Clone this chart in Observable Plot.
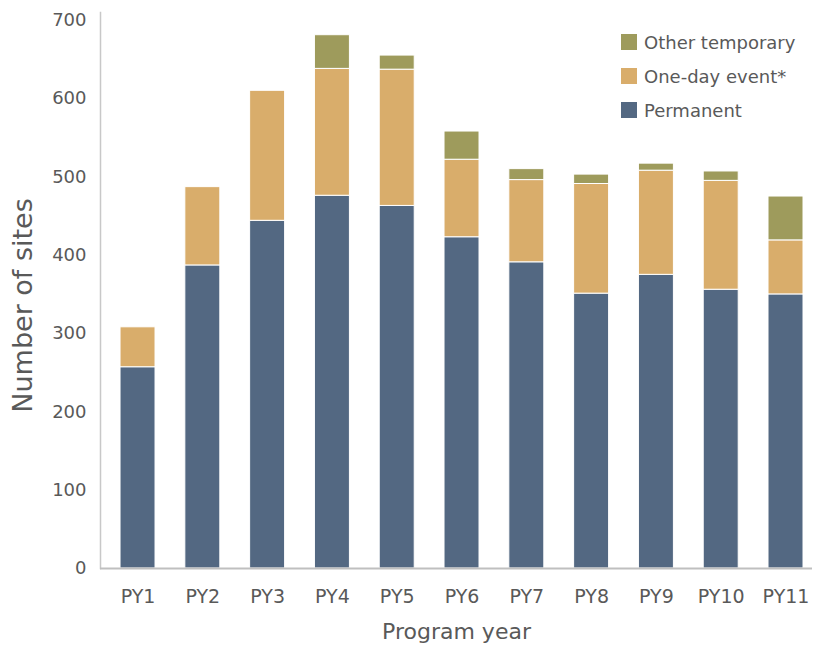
<!DOCTYPE html>
<html><head><meta charset="utf-8">
<script src="https://cdn.jsdelivr.net/npm/d3@7"></script>
<script src="https://cdn.jsdelivr.net/npm/@observablehq/plot@0.6"></script>
<style>
body{margin:0;background:#fff;font-family:"DejaVu Sans",sans-serif;}
#wrap{position:relative;width:817px;height:648px;}
.legend{position:absolute;left:621px;top:34px;}
.item{display:flex;align-items:center;height:16px;margin-bottom:18px;font-size:18px;color:#595959;white-space:nowrap;}
.sw{width:16px;height:16px;margin-right:7px;flex:none;}
</style></head><body><div id="wrap"></div>
<script>
const years = ["PY1","PY2","PY3","PY4","PY5","PY6","PY7","PY8","PY9","PY10","PY11"];
const permanent = [257,387,444,476,463,423,391,351,375,356,350];
const oneDay    = [51,100,166,162,174,99,105,140,133,139,69];
const otherTemp = [0,0,0,43,18,36,14,12,9,12,56];
const seriesNames = ["Permanent","One-day event*","Other temporary"];
const seriesColors = ["#536882","#d9ad6b","#9e9b5c"];
const yTicks = [0,100,200,300,400,500,600,700];
const legendOrder = ["Other temporary","One-day event*","Permanent"];

const seriesValues = [permanent, oneDay, otherTemp];
const table = [];
years.forEach((yr, i) => {
  seriesValues.forEach((arr, j) => {
    if (arr[i] > 0) table.push({year: yr, series: seriesNames[j], value: arr[i]});
  });
});

const chart = Plot.plot({
  width: 817, height: 648,
  marginLeft: 100, marginRight: 5, marginTop: 12, marginBottom: 80,
  style: {fontFamily: "DejaVu Sans", color: "#595959", background: "white"},
  x: {domain: years, paddingInner: 0.46, paddingOuter: 0.224, align: 0.69, round: false, label: null},
  y: {domain: [0, 710], ticks: yTicks, label: null},
  color: {domain: seriesNames, range: seriesColors},
  marks: [
    Plot.barY(table, {x: "year", y: "value", fill: "series", order: seriesNames, stroke: "white", strokeWidth: 1}),
    Plot.frame({anchor: "left", stroke: "#c8c8c8", strokeWidth: 1.5}),
    Plot.ruleY([0], {stroke: "#bfbfbf", strokeWidth: 2}),
    Plot.axisY({ticks: yTicks, tickSize: 0, tickPadding: 14, fontSize: 18, label: null}),
    Plot.axisX({tickSize: 0, tickPadding: 21, fontSize: 19, label: null}),
    Plot.text(["Program year"], {frameAnchor: "bottom", dy: 70, fontSize: 22, fill: "#595959"}),
    Plot.text(["Number of sites"], {frameAnchor: "left", textAnchor: "middle", rotate: -90, dx: -77, dy: 15, fontSize: 27, fill: "#595959"})
  ]
});
const wrap = document.getElementById("wrap");
wrap.appendChild(chart);

const legend = document.createElement("div");
legend.className = "legend";
legendOrder.forEach(name => {
  const item = document.createElement("div");
  item.className = "item";
  const sw = document.createElement("span");
  sw.className = "sw";
  sw.style.background = seriesColors[seriesNames.indexOf(name)];
  const label = document.createElement("span");
  label.textContent = name;
  item.appendChild(sw);
  item.appendChild(label);
  legend.appendChild(item);
});
wrap.appendChild(legend);
</script>
</body></html>
